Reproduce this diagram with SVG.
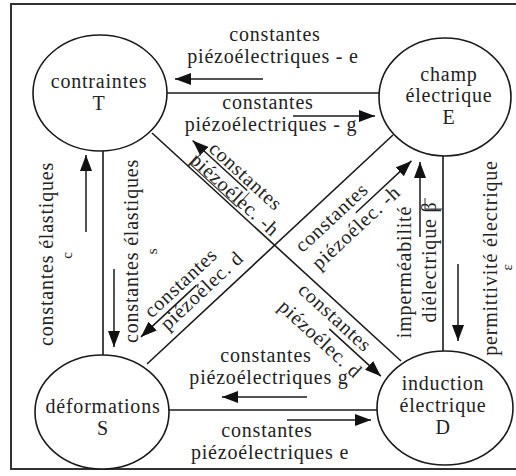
<svg xmlns="http://www.w3.org/2000/svg" width="516" height="476" viewBox="0 0 516 476" font-family="Liberation Serif, serif">
<style>
.t{font-size:20px;letter-spacing:0.8px;fill:#222;text-anchor:middle}
.sm{font-size:15px}
.ln{stroke:#1a1a1a;stroke-width:1.6;fill:none}
.ar{stroke:#1a1a1a;stroke-width:1.5;fill:none;marker-end:url(#ah)}
.bx{stroke:#333;stroke-width:1;fill:none}
.nd{fill:#fff;stroke:#1a1a1a;stroke-width:1.6}
</style>
<defs>
<marker id="ah" markerWidth="16" markerHeight="12" refX="16" refY="6" orient="auto" markerUnits="userSpaceOnUse"><path d="M0,0 L16,6 L0,12 Z" fill="#111"/></marker>
</defs>
<rect width="516" height="476" fill="#fff"/>
<path d="M516,4 L11,4 L11,469 L516,469" stroke="#333" stroke-width="2" fill="none"/>

<g id="connectors">
<line class="ln" x1="167" y1="93" x2="379" y2="93"/>
<line class="ln" x1="103" y1="151" x2="103" y2="355"/>
<line class="ln" x1="443" y1="156" x2="443" y2="351"/>
<line class="ln" x1="169" y1="410" x2="377" y2="410"/>
<line class="ln" x1="152" y1="133" x2="401" y2="361"/>
<line class="ln" x1="393" y1="135" x2="147" y2="364"/>

<line class="ar" x1="263" y1="79" x2="175" y2="79"/>
<line class="ar" x1="293" y1="116" x2="375" y2="116"/>
<line class="ar" x1="307" y1="397" x2="222" y2="397"/>
<line class="ar" x1="287" y1="420" x2="371" y2="420"/>
<line class="ar" x1="86" y1="232" x2="86" y2="155"/>
<line class="ar" x1="114" y1="269" x2="114" y2="347"/>
<line class="ar" x1="420" y1="237" x2="420" y2="162"/>
<line class="ar" x1="458" y1="264" x2="458" y2="341"/>
<path class="bx" d="M425,198 L425,209 L443,209"/>
</g>

<g id="label-T-E">
<text class="t" x="275" y="41">constantes</text>
<text class="t" x="273" y="63">piézoélectriques - e</text>
<text class="t" x="268" y="109">constantes</text>
<text class="t" x="271" y="131">piézoélectriques - g</text>
</g>
<g id="label-S-D">
<text class="t" x="266" y="362">constantes</text>
<text class="t" x="269" y="384">piézoélectriques g</text>
<text class="t" x="267" y="437">constantes</text>
<text class="t" x="270" y="459">piézoélectriques e</text>
</g>
<g id="label-T-S">
<text class="t" transform="translate(53,254) rotate(-90)">constantes élastiques</text>
<text class="t sm" transform="translate(72,255) rotate(-90)">c</text>
<text class="t" transform="translate(138,251) rotate(-90)">constantes élastiques</text>
<text class="t sm" transform="translate(157,251) rotate(-90)">s</text>
</g>
<g id="label-E-D">
<text class="t" transform="translate(411,272) rotate(-90)">imperméabilité</text>
<text class="t" transform="translate(436,262) rotate(-90)">diélectrique β</text>
<text class="t" transform="translate(497,258) rotate(-90)">permittivité électrique</text>
<text class="t sm" transform="translate(512,267) rotate(-90)">ε</text>
</g>

<g id="label-T-D-h" transform="translate(225.7,200.6) rotate(42.48)">
<line class="ar" x1="9" y1="-22" x2="-65" y2="-22"/>
<path class="bx" d="M-50,-22 L-50,-3 L12,-3 L12,-22"/>
<text class="t" x="-1.7" y="-25">constantes</text>
<text class="t" x="2.7" y="-4">piézoélec. -h</text>
</g>
<g id="label-E-S-h" transform="translate(337.3,186.9) rotate(-42.95)">
<line class="ar" x1="-4" y1="31.5" x2="72" y2="31.5"/>
<text class="t" x="-25" y="25">constantes</text>
<text class="t" x="-14" y="49">piézoélec. -h</text>
</g>
<g id="label-E-S-d" transform="translate(205.6,309.5) rotate(-42.95)">
<line class="ar" x1="10" y1="-24" x2="-66" y2="-24"/>
<text class="t" x="0" y="-30">constantes</text>
<text class="t" x="10" y="-10">piézoélec. d</text>
</g>
<g id="label-T-D-d" transform="translate(343.6,308.8) rotate(42.48)">
<line class="ar" x1="3" y1="24.5" x2="73" y2="24.5"/>
<text class="t" x="-0.5" y="18.7">constantes</text>
<text class="t" x="3" y="44.7">piézoélec. d</text>
</g>

<g id="node-T">
<ellipse class="nd" cx="100" cy="93" rx="67" ry="58"/>
<text class="t" x="99" y="88">contraintes</text>
<text class="t" x="99" y="110">T</text>
</g>
<g id="node-E">
<ellipse class="nd" cx="445" cy="97" rx="66" ry="59"/>
<text class="t" x="449" y="81">champ</text>
<text class="t" x="449" y="102">électrique</text>
<text class="t" x="449" y="124">E</text>
</g>
<g id="node-S">
<ellipse class="nd" cx="102" cy="412" rx="67" ry="57"/>
<text class="t" x="103" y="413">déformations</text>
<text class="t" x="103" y="435">S</text>
</g>
<g id="node-D">
<ellipse class="nd" cx="445" cy="408" rx="68" ry="57"/>
<text class="t" x="443" y="390">induction</text>
<text class="t" x="443" y="412">électrique</text>
<text class="t" x="443" y="434">D</text>
</g>
</svg>
